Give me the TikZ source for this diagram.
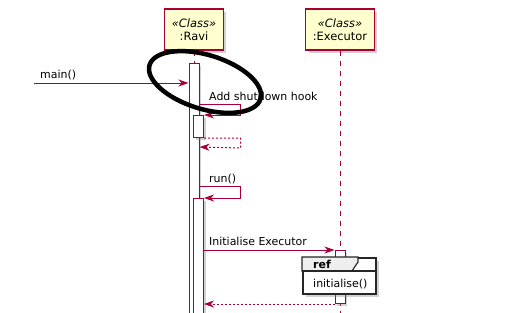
\documentclass[tikz,border=0pt]{standalone}
\usepackage{fontspec}
\setmainfont{DejaVu Sans}
\usetikzlibrary{arrows.meta,shadows,shapes.geometric}

\definecolor{seqline}{HTML}{A80036}
\definecolor{seqfill}{HTML}{FEFECE}
\definecolor{refhead}{HTML}{EEEEEE}
\tikzset{
  participant/.style={draw=seqline,fill=seqfill,line width=1.2bp,align=center,
    inner xsep=7bp,minimum height=41bp,font=\fontsize{11.5}{13.5}\selectfont,
    drop shadow={shadow xshift=3bp,shadow yshift=-3bp,opacity=.35}},
  lifeline/.style={seqline,line width=.8bp,dash pattern=on 5bp off 5bp},
  actbar/.style={draw=seqline,fill=white,line width=1bp,minimum width=10bp,
    inner sep=0pt,anchor=north,
    drop shadow={shadow xshift=2bp,shadow yshift=-2bp,opacity=.35}},
  msg/.style={seqline,line width=1bp,-{Stealth[length=10bp,width=7bp,inset=3bp]}},
  reply/.style={msg,dash pattern=on 2bp off 2bp},
  msglabel/.style={anchor=base west,inner sep=0pt,font=\fontsize{11}{13}\selectfont},
  refframe/.style={draw=black!85,fill=white,line width=1.5bp,inner sep=0pt,
    drop shadow={shadow xshift=3bp,shadow yshift=-3bp,opacity=.35}},
}

\begin{document}
\begin{tikzpicture}[x=1bp,y=-1bp]
  \useasboundingbox[fill=white] (0,0) rectangle (518,312);

  % participants and their lifelines
  \node[participant] (ravi) at (194,29.5) {\textit{«Class»}\\:Ravi};
  \node[participant] (exec) at (340,29.5) {\textit{«Class»}\\:Executor};
  \coordinate (bottom) at (0,330);
  \draw[lifeline] (ravi.south) -- (ravi.south |- bottom);
  \draw[lifeline] (exec.south) -- (exec.south |- bottom);

  % activations
  \node[actbar,minimum height=270bp] (main) at (194,63) {};
  \node[actbar,minimum height=22bp] (hook) at (198.5,115) {};
  \node[actbar,minimum height=130bp] (run) at (198.5,198) {};
  \node[actbar,minimum height=53bp] (init) at (340,250) {};

  % messages
  \coordinate (caller) at (34,83);
  \draw[msg] (caller) -- (caller -| main.west);
  \node[msglabel] (l1) at (40,78) {main()};

  \draw[msg] (main.east |- 0,104) -- ++(41,0) -- ++(0,11) -- (hook.north east);
  \node[msglabel] (l2) at (209,100) {Add shutdown hook};
  \draw[reply] (hook.south east) -- ++(36.5,0) -- ++(0,10) -- (main.east |- 0,147);

  \draw[msg] (main.east |- 0,186) -- ++(41,0) -- ++(0,12) -- (run.north east);
  \node[msglabel] (l3) at (209,182) {run()};

  \draw[msg] (run.east |- init.north west) -- (init.north west);
  \node[msglabel] (l4) at (209,245) {Initialise Executor};
  \draw[reply] (init.south west) -- (init.south west -| run.east);

  % ref frame
  \node[refframe,minimum width=73bp,minimum height=36bp,anchor=north west]
    (ref) at (302,257) {};
  \filldraw[draw=black!85,fill=refhead,line width=1.2bp]
    (ref.north west) -- ++(56,0) -- ++(0,5) -- ++(-6,9) -- (ref.west |- 0,271) -- cycle;
  \draw[black!85,line width=1.2bp] (ref.west |- 0,271) -- (ref.east |- 0,271);
  \node[msglabel,font=\fontsize{11}{13}\selectfont\bfseries] (reftag) at (313,268) {ref};
  \node[msglabel] (refname) at (313,287) {initialise()};

  % marker
  \node[draw,ellipse,line width=4.5bp,minimum width=116bp,minimum height=54bp,
    rotate=-17] (mark) at (205,82) {};
\end{tikzpicture}
\end{document}
